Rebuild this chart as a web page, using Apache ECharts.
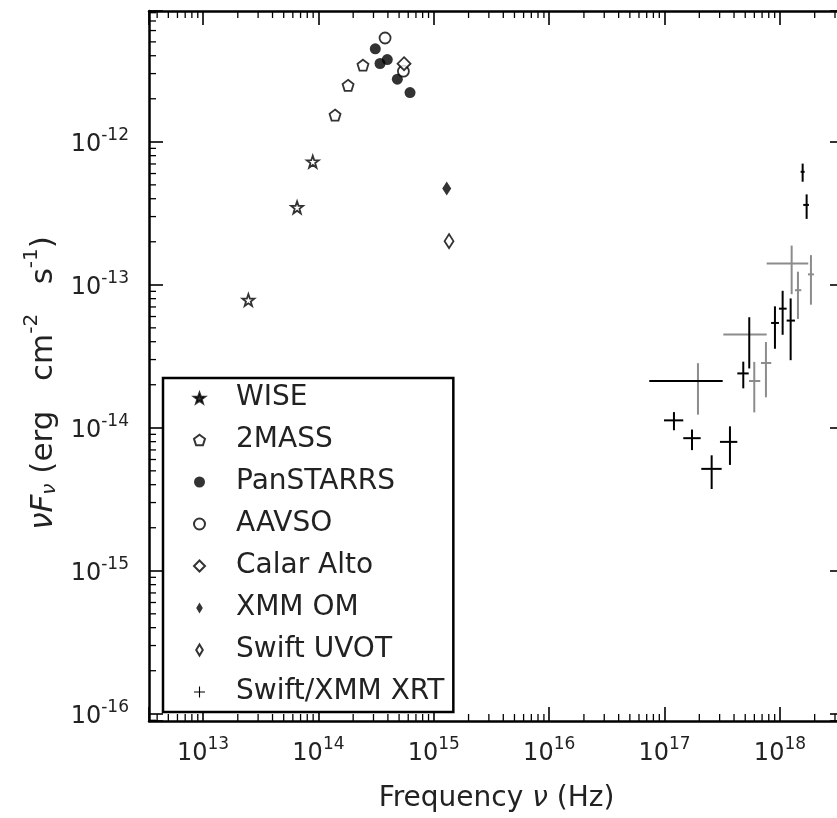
<!DOCTYPE html>
<html><head><meta charset="utf-8">
<script src="https://cdn.jsdelivr.net/npm/echarts@6/dist/echarts.min.js"></script>
<style>html,body{margin:0;padding:0;background:#fff;overflow:hidden;width:837px;height:818px}#c{width:850px;height:818px}</style>
</head><body><div id="c"></div>
<script>
// ---- data: [frequency (Hz), nuFnu (erg cm^-2 s^-1)] ----
const wise = [[2.47e13, 7.82e-14], [6.53e13, 3.48e-13], [8.93e13, 7.26e-13]];
const twoMass = [[1.393e14, 1.538e-12], [1.807e14, 2.483e-12], [2.432e14, 3.436e-12]];
const panStarrs = [[3.11e14, 4.47e-12], [3.42e14, 3.53e-12], [3.95e14, 3.76e-12], [4.83e14, 2.74e-12], [6.22e14, 2.21e-12]];
const aavso = [[3.78e14, 5.32e-12], [5.45e14, 3.12e-12]];
const calarAlto = [[5.52e14, 3.52e-12]];
const xmmOM = [[1.294e15, 4.72e-13]];
const swiftUVOT = [[1.355e15, 2.02e-13]];
// X-ray: [nu, nuLow, nuHigh, flux, fluxLow, fluxHigh]
const xrtBlack = [
  [1.206e17, 9.88e16, 1.452e17, 1.127e-14, 9.61e-15, 1.287e-14],
  [1.728e17, 1.452e17, 2.055e17, 8.46e-15, 6.98e-15, 9.72e-15],
  [2.559e17, 2.080e17, 3.124e17, 5.16e-15, 3.73e-15, 6.42e-15],
  [3.687e17, 3.02e17, 4.27e17, 7.97e-15, 5.50e-15, 1.024e-14],
  [1.947e17, 7.37e16, 3.19e17, 2.124e-14, 2.124e-14, 2.124e-14],
  [4.81e17, 4.27e17, 5.36e17, 2.40e-14, 1.887e-14, 2.90e-14],
  [5.42e17, 5.42e17, 5.42e17, 4.50e-14, 2.60e-14, 5.93e-14],
  [9.05e17, 8.38e17, 9.80e17, 5.41e-14, 3.57e-14, 7.07e-14],
  [1.055e18, 9.80e17, 1.143e18, 6.81e-14, 4.47e-14, 9.08e-14],
  [1.238e18, 1.143e18, 1.349e18, 5.62e-14, 2.97e-14, 8.03e-14],
  [1.573e18, 1.511e18, 1.637e18, 6.17e-13, 5.26e-13, 7.04e-13],
  [1.703e18, 1.592e18, 1.783e18, 3.62e-13, 2.89e-13, 4.29e-13]
];
const xrtGray = [
  [1.947e17, 1.947e17, 1.947e17, 2.124e-14, 1.235e-14, 2.83e-14],
  [5.42e17, 3.23e17, 7.67e17, 4.50e-14, 4.50e-14, 4.50e-14],
  [5.99e17, 5.39e17, 6.75e17, 2.124e-14, 1.281e-14, 2.89e-14],
  [7.56e17, 6.85e17, 8.41e17, 2.84e-14, 1.635e-14, 3.98e-14],
  [1.263e18, 7.67e17, 1.759e18, 1.411e-13, 8.60e-14, 1.880e-13],
  [1.432e18, 1.349e18, 1.530e18, 9.17e-14, 5.77e-14, 1.235e-13],
  [1.856e18, 1.748e18, 1.970e18, 1.183e-13, 7.26e-14, 1.613e-13]
];
const seriesNames = ['WISE', '2MASS', 'PanSTARRS', 'AAVSO', 'Calar Alto', 'XMM OM', 'Swift UVOT', 'Swift/XMM XRT'];
const xRange = [3.40e12, 3.59e18];
const yRange = [8.9e-17, 8.22e-12];

// ---- rendering ----
const FONT = 'DejaVu Sans';
const STAR = 'path://M0,-1 L0.235,-0.324 L0.951,-0.309 L0.380,0.124 L0.588,0.809 L0,0.4 L-0.588,0.809 L-0.380,0.124 L-0.951,-0.309 L-0.235,-0.324 Z';
const PENT = 'path://M0,-1 L0.951,-0.309 L0.588,0.809 L-0.588,0.809 L-0.951,-0.309 Z';
const PLUS = 'path://M-0.1,-1 L0.1,-1 L0.1,-0.1 L1,-0.1 L1,0.1 L0.1,0.1 L0.1,1 L-0.1,1 L-0.1,0.1 L-1,0.1 L-1,-0.1 L-0.1,-0.1 Z';
const THIN_DIAMOND = 'path://M0,-1 L0.6,0 L0,1 L-0.6,0 Z';

const minorX = [], minorY = [];
for (let e = 12; e <= 18; e++) for (let m = 2; m <= 9; m++) { const v = m * Math.pow(10, e); if (v > xRange[0] && v < xRange[1]) minorX.push(v); }
for (let e = -17; e <= -12; e++) for (let m = 2; m <= 9; m++) { const v = m * Math.pow(10, e); if (v > yRange[0] && v < yRange[1]) minorY.push(v); }

const labelRich = {
  m: { fontFamily: FONT, fontSize: 24, color: '#222', lineHeight: 30, verticalAlign: 'bottom' },
  s: { fontFamily: FONT, fontSize: 17, color: '#222', lineHeight: 17, verticalAlign: 'top' }
};
function powLabel(v) {
  const e = Math.log10(v), r = Math.round(e);
  if (Math.abs(e - r) > 1e-6) return '';
  return '{m|10}{s|' + r + '}';
}
const spine = { show: true, onZero: false, lineStyle: { color: '#000', width: 2.5 } };
const majorTick = { show: true, inside: true, length: 14, lineStyle: { color: '#000', width: 1.6 } };

function errRender(color) {
  return function (params, api) {
    const c = api.coord([api.value(0), api.value(3)]);
    const l = api.coord([api.value(1), api.value(3)]);
    const r = api.coord([api.value(2), api.value(3)]);
    const b = api.coord([api.value(0), api.value(4)]);
    const t = api.coord([api.value(0), api.value(5)]);
    const ch = [];
    if (Math.abs(r[0] - l[0]) > 0.5) ch.push({ type: 'line', shape: { x1: l[0], y1: c[1], x2: r[0], y2: c[1] }, style: { stroke: color, lineWidth: 2 } });
    if (Math.abs(b[1] - t[1]) > 0.5) ch.push({ type: 'line', shape: { x1: c[0], y1: t[1], x2: c[0], y2: b[1] }, style: { stroke: color, lineWidth: 2 } });
    return { type: 'group', children: ch };
  };
}
function minorRender(params, api) {
  const cs = params.coordSys;
  const ch = [];
  const st = { stroke: '#000', lineWidth: 1.3 };
  minorX.forEach(v => {
    const x = api.coord([v, yRange[0]])[0];
    ch.push({ type: 'line', shape: { x1: x, y1: cs.y + cs.height, x2: x, y2: cs.y + cs.height - 7 }, style: st });
    ch.push({ type: 'line', shape: { x1: x, y1: cs.y, x2: x, y2: cs.y + 7 }, style: st });
  });
  minorY.forEach(v => {
    const y = api.coord([xRange[0], v])[1];
    ch.push({ type: 'line', shape: { x1: cs.x, y1: y, x2: cs.x + 7, y2: y }, style: st });
    ch.push({ type: 'line', shape: { x1: cs.x + cs.width, y1: y, x2: cs.x + cs.width - 7, y2: y }, style: st });
  });
  return { type: 'group', children: ch };
}

const openStyle = { color: '#fff', borderColor: '#000', borderWidth: 1.8 };
const titleRich = {
  n: { fontFamily: FONT, fontSize: 28, color: '#222', lineHeight: 34, verticalAlign: 'bottom' },
  i: { fontFamily: FONT, fontSize: 28, fontStyle: 'italic', color: '#222', lineHeight: 34, verticalAlign: 'bottom' }
};
const yTitleRich = {
  n: { fontFamily: FONT, fontSize: 31, color: '#222', lineHeight: 38, verticalAlign: 'bottom' },
  i: { fontFamily: FONT, fontSize: 31, fontStyle: 'italic', color: '#222', lineHeight: 38, verticalAlign: 'bottom' },
  sub: { fontFamily: FONT, fontSize: 20, fontStyle: 'italic', color: '#222', lineHeight: 28, verticalAlign: 'bottom' },
  sup: { fontFamily: FONT, fontSize: 20, color: '#222', lineHeight: 20, verticalAlign: 'top' }
};
const option = {
  animation: false,
  backgroundColor: '#fff',
  grid: { left: 149, top: 11, width: 695, bottom: 92, containLabel: false },
  xAxis: [
    { type: 'log', logBase: 10, min: xRange[0], max: xRange[1], position: 'bottom',
      axisLine: spine, axisTick: majorTick, splitLine: { show: false },
      axisLabel: { formatter: powLabel, rich: labelRich, margin: 15, showMinLabel: true, showMaxLabel: true },
      name: '{n|Frequency }{i|ν}{n| (Hz)}', nameLocation: 'middle', nameGap: 58,
      nameTextStyle: { rich: titleRich } },
    { type: 'log', logBase: 10, min: xRange[0], max: xRange[1], position: 'top',
      axisLine: spine, axisTick: majorTick, splitLine: { show: false }, axisLabel: { show: false } }
  ],
  yAxis: [
    { type: 'log', logBase: 10, min: yRange[0], max: yRange[1], position: 'left',
      axisLine: spine, axisTick: majorTick, splitLine: { show: false },
      axisLabel: { formatter: powLabel, rich: labelRich, margin: 20 },
      name: '{i|νF}{sub|ν}{n| (erg   cm}{sup|-2}{n|   s}{sup|-1}{n|)}', nameLocation: 'middle', nameGap: 88, nameRotate: 90,
      nameTextStyle: { padding: [0, 34, 0, 0], rich: yTitleRich } },
    { type: 'log', logBase: 10, min: yRange[0], max: yRange[1], position: 'right',
      axisLine: spine, axisTick: majorTick, splitLine: { show: false }, axisLabel: { show: false } }
  ],
  legend: {
    orient: 'vertical', left: 163, top: 378,
    backgroundColor: '#fff', borderColor: '#000', borderWidth: 2.5, borderRadius: 0,
    padding: [4, 9, 4, 30], itemGap: 10, itemWidth: 11, itemHeight: 11,
    selectedMode: false,
    textStyle: { fontFamily: FONT, fontSize: 28, color: '#222', lineHeight: 32, padding: [0, 0, 0, 26] },
    data: [
      { name: seriesNames[0], icon: STAR, itemStyle: { color: '#000' } },
      { name: seriesNames[1], icon: PENT },
      { name: seriesNames[2], icon: 'circle' },
      { name: seriesNames[3], icon: 'circle' },
      { name: seriesNames[4], icon: 'diamond' },
      { name: seriesNames[5], icon: THIN_DIAMOND },
      { name: seriesNames[6], icon: THIN_DIAMOND },
      { name: seriesNames[7], icon: PLUS, itemStyle: { color: '#000' } }
    ]
  },
  series: [
    { type: 'custom', silent: true, clip: false, z: 1, renderItem: minorRender, data: [[xRange[0], yRange[0]]] },
    { name: seriesNames[7], type: 'custom', renderItem: errRender('#8c8c8c'), itemStyle: { color: '#000' },
      encode: { x: [0, 1, 2], y: [3, 4, 5] }, data: xrtGray, z: 3 },
    { name: seriesNames[7], type: 'custom', renderItem: errRender('#000'), itemStyle: { color: '#000' },
      encode: { x: [0, 1, 2], y: [3, 4, 5] }, data: xrtBlack, z: 4 },
    { name: seriesNames[0], type: 'scatter', symbol: STAR, symbolSize: 12, itemStyle: { color: '#fff', borderColor: '#000', borderWidth: 1.8 }, data: wise, z: 5 },
    { name: seriesNames[1], type: 'scatter', symbol: PENT, symbolSize: 11, itemStyle: openStyle, data: twoMass, z: 5 },
    { name: seriesNames[2], type: 'scatter', symbol: 'circle', symbolSize: 11, itemStyle: { color: '#000' }, data: panStarrs, z: 5 },
    { name: seriesNames[3], type: 'scatter', symbol: 'circle', symbolSize: 11, itemStyle: openStyle, data: aavso, z: 5 },
    { name: seriesNames[4], type: 'scatter', symbol: 'diamond', symbolSize: [13, 13], itemStyle: openStyle, data: calarAlto, z: 5 },
    { name: seriesNames[5], type: 'scatter', symbol: 'diamond', symbolSize: [9, 14], itemStyle: { color: '#000' }, data: xmmOM, z: 5 },
    { name: seriesNames[6], type: 'scatter', symbol: 'diamond', symbolSize: [9, 14], itemStyle: openStyle, data: swiftUVOT, z: 5 }
  ]
};
const chart = echarts.init(document.getElementById('c'), null, { renderer: 'canvas' });
chart.setOption(option);
</script>
</body></html>
